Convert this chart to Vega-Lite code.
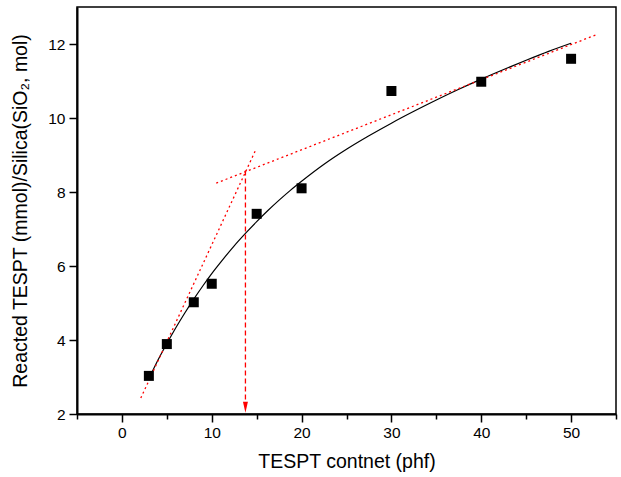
{
  "$schema": "https://vega.github.io/schema/vega-lite/v6.json",
  "width": 539,
  "height": 407,
  "autosize": {"type": "none"},
  "padding": {"left": 77, "top": 7, "right": 5, "bottom": 63},
  "background": "white",
  "config": {
    "font": "Liberation Sans",
    "view": {"stroke": "#000", "strokeWidth": 1.5},
    "axis": {
      "domainColor": "#000",
      "domainWidth": 2,
      "tickColor": "#000",
      "tickWidth": 1.5,
      "grid": false,
      "labelFont": "Liberation Sans",
      "labelFontSize": 15.5,
      "labelColor": "#000",
      "titleFont": "Liberation Sans",
      "titleFontSize": 19.5,
      "titleFontWeight": "normal",
      "titleColor": "#000",
      "labelOverlap": false
    }
  },
  "datasets": {
    "measured": [
      {"phf": 3, "reacted": 3.03},
      {"phf": 5, "reacted": 3.89},
      {"phf": 8, "reacted": 5.02},
      {"phf": 10, "reacted": 5.52},
      {"phf": 15, "reacted": 7.41},
      {"phf": 20, "reacted": 8.1},
      {"phf": 30, "reacted": 10.73},
      {"phf": 40, "reacted": 10.98},
      {"phf": 50, "reacted": 11.6}
    ],
    "fit": [
      {"phf": 3, "reacted": 2.95},
      {"phf": 4, "reacted": 3.45},
      {"phf": 5, "reacted": 3.9},
      {"phf": 6, "reacted": 4.33},
      {"phf": 7, "reacted": 4.73},
      {"phf": 8, "reacted": 5.105},
      {"phf": 9, "reacted": 5.46},
      {"phf": 10, "reacted": 5.795},
      {"phf": 11.25, "reacted": 6.18},
      {"phf": 12.5, "reacted": 6.545},
      {"phf": 13.75, "reacted": 6.88},
      {"phf": 15, "reacted": 7.2},
      {"phf": 16.25, "reacted": 7.5},
      {"phf": 17.5, "reacted": 7.78},
      {"phf": 18.75, "reacted": 8.045},
      {"phf": 20, "reacted": 8.29},
      {"phf": 22.5, "reacted": 8.75},
      {"phf": 25, "reacted": 9.155},
      {"phf": 27.5, "reacted": 9.52},
      {"phf": 30, "reacted": 9.86},
      {"phf": 32.5, "reacted": 10.18},
      {"phf": 35, "reacted": 10.485},
      {"phf": 37.5, "reacted": 10.775},
      {"phf": 40, "reacted": 11.05},
      {"phf": 42.5, "reacted": 11.31},
      {"phf": 45, "reacted": 11.56},
      {"phf": 47.5, "reacted": 11.8},
      {"phf": 50, "reacted": 12.02}
    ],
    "tangents": [
      {"line": "initial slope", "phf": 2.1, "reacted": 2.43},
      {"line": "initial slope", "phf": 14.9, "reacted": 9.14},
      {"line": "plateau slope", "phf": 10.5, "reacted": 8.24},
      {"line": "plateau slope", "phf": 52.8, "reacted": 12.25}
    ],
    "drop": [
      {"phf": 13.75, "reacted": 8.58},
      {"phf": 13.75, "reacted": 2.3}
    ],
    "arrowhead": [
      {"phf": 13.75, "reacted": 2.18}
    ]
  },
  "layer": [
    {
      "data": {"name": "fit"},
      "mark": {"type": "line", "color": "#000", "strokeWidth": 1.2, "interpolate": "monotone"},
      "encoding": {
        "x": {
          "field": "phf",
          "type": "quantitative",
          "scale": {"domain": [-5, 55], "nice": false, "zero": false},
          "axis": {
            "title": "TESPT contnet (phf)",
            "values": [-5, 0, 5, 10, 15, 20, 25, 30, 35, 40, 45, 50, 55],
            "labelExpr": "datum.value % 10 === 0 ? datum.label : ''",
            "tickSize": {"condition": {"test": "datum.value % 10 === 0", "value": 8}, "value": 5},
            "labelPadding": 3,
            "labelFlush": false,
            "titlePadding": 12
          }
        },
        "y": {
          "field": "reacted",
          "type": "quantitative",
          "scale": {"domain": [2, 13], "nice": false, "zero": false},
          "axis": {
            "title": "Reacted TESPT (mmol)/Silica(SiO₂, mol)",
            "values": [2, 3, 4, 5, 6, 7, 8, 9, 10, 11, 12, 13],
            "labelExpr": "datum.value % 2 === 0 ? datum.label : ''",
            "tickSize": {"condition": {"test": "datum.value % 2 === 0", "value": 8}, "value": 5},
            "labelPadding": 4,
            "titlePadding": 17
          }
        }
      }
    },
    {
      "data": {"name": "tangents"},
      "mark": {"type": "line", "color": "#ff0000", "strokeWidth": 1.3, "strokeDash": [2, 3]},
      "encoding": {
        "x": {"field": "phf", "type": "quantitative"},
        "y": {"field": "reacted", "type": "quantitative"},
        "detail": {"field": "line"}
      }
    },
    {
      "data": {"name": "drop"},
      "mark": {"type": "line", "color": "#ff0000", "strokeWidth": 1.3, "strokeDash": [5, 3]},
      "encoding": {
        "x": {"field": "phf", "type": "quantitative"},
        "y": {"field": "reacted", "type": "quantitative"}
      }
    },
    {
      "data": {"name": "arrowhead"},
      "mark": {"type": "point", "shape": "M-0.45,-1L0.45,-1L0,1Z", "size": 121, "filled": true, "color": "#ff0000", "opacity": 1},
      "encoding": {
        "x": {"field": "phf", "type": "quantitative"},
        "y": {"field": "reacted", "type": "quantitative"}
      }
    },
    {
      "data": {"name": "measured"},
      "mark": {"type": "point", "shape": "square", "size": 100, "filled": true, "color": "#000", "opacity": 1},
      "encoding": {
        "x": {"field": "phf", "type": "quantitative"},
        "y": {"field": "reacted", "type": "quantitative"}
      }
    }
  ]
}
